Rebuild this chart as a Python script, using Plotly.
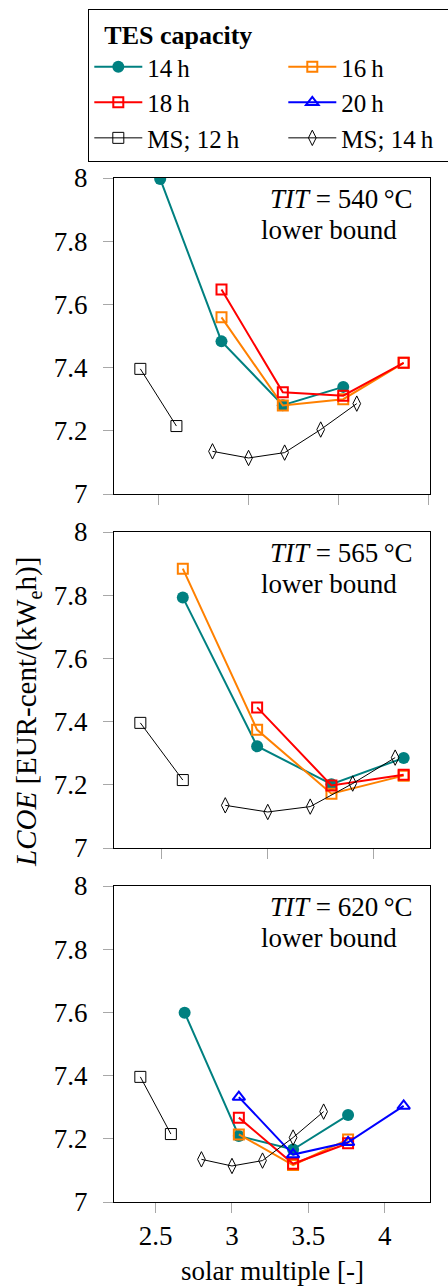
import plotly.graph_objects as go

# ---------------- data ----------------
# TIT = 540 °C
sm14_540 = [2.51, 2.85, 3.19, 3.525]
lcoe14_540 = [7.997, 7.483, 7.281, 7.339]
sm16_540 = [2.85, 3.19, 3.525, 3.86]
lcoe16_540 = [7.559, 7.280, 7.300, 7.415]
sm18_540 = [2.85, 3.19, 3.525, 3.86]
lcoe18_540 = [7.647, 7.322, 7.311, 7.415]

# TIT = 565 °C
sm14_565 = [2.60, 2.95, 3.30, 3.64]
lcoe14_565 = [7.793, 7.322, 7.202, 7.285]
sm16_565 = [2.60, 2.95, 3.30, 3.64]
lcoe16_565 = [7.884, 7.374, 7.172, 7.229]
sm18_565 = [2.95, 3.30, 3.64]
lcoe18_565 = [7.445, 7.198, 7.232]

# TIT = 620 °C
sm14_620 = [2.69, 3.045, 3.40, 3.76]
lcoe14_620 = [7.599, 7.209, 7.166, 7.275]
sm16_620 = [3.045, 3.40, 3.76]
lcoe16_620 = [7.214, 7.117, 7.198]
sm18_620 = [3.045, 3.40, 3.76]
lcoe18_620 = [7.267, 7.121, 7.186]
sm20_620 = [3.045, 3.40, 3.76, 4.124]
lcoe20_620 = [7.332, 7.150, 7.189, 7.304]

# molten-salt references (same in every panel)
sm_ms12 = [2.4, 2.6]
lcoe_ms12 = [7.396, 7.215]
sm_ms14 = [2.8, 3.0, 3.2, 3.4, 3.6]
lcoe_ms14 = [7.135, 7.114, 7.131, 7.204, 7.286]

panel_titles = ["540", "565", "620"]
x_ticks = [2.5, 3, 3.5, 4]
x_ticklabels = ["2.5", "3", "3.5", "4"]
y_ticks = [7, 7.2, 7.4, 7.6, 7.8, 8]
y_ticklabels = ["7", "7.2", "7.4", "7.6", "7.8", "8"]

# ---------------- styling ----------------
W, H = 448, 1286
ML, MR, MT, MB = 114, 18, 178, 84
PW, PH = W - ML - MR, H - MT - MB
FONT = "'Liberation Serif', Tinos, 'Times New Roman', 'DejaVu Serif', serif"

TEAL = "#008080"
ORANGE = "#ff8000"
RED = "#ff0000"
BLUE = "#0000ff"

styles = {
    "14h": dict(name="14\u2009h", color=TEAL, symbol="circle", size=12, lw=2, mlw=0),
    "16h": dict(name="16\u2009h", color=ORANGE, symbol="square-open", size=10, lw=2, mlw=2),
    "18h": dict(name="18\u2009h", color=RED, symbol="square-open", size=10, lw=2, mlw=2),
    "20h": dict(name="20\u2009h", color=BLUE, symbol="triangle-up-open", size=11, lw=2, mlw=2),
    "ms12": dict(name="MS; 12\u2009h", color="black", symbol="square-open", size=11, lw=1, mlw=1),
    "ms14": dict(name="MS; 14\u2009h", color="black", symbol="diamond-tall-open", size=11, lw=1, mlw=1),
}

panels = [
    {"14h": (sm14_540, lcoe14_540), "16h": (sm16_540, lcoe16_540),
     "18h": (sm18_540, lcoe18_540)},
    {"14h": (sm14_565, lcoe14_565), "16h": (sm16_565, lcoe16_565),
     "18h": (sm18_565, lcoe18_565)},
    {"14h": (sm14_620, lcoe14_620), "16h": (sm16_620, lcoe16_620),
     "18h": (sm18_620, lcoe18_620), "20h": (sm20_620, lcoe20_620)},
]

# panel pixel extents (top, bottom)
panel_px = [(178, 494), (532, 848), (886, 1202)]

def py2paper(py):
    return (H - MB - py) / PH

def px2paper(px):
    return (px - ML) / PW

fig = go.Figure()
order = ["14h", "16h", "18h", "20h", "ms12", "ms14"]
shown = set()

for i, pdata in enumerate(panels):
    ax = "" if i == 0 else str(i + 1)
    data = dict(pdata)
    data["ms12"] = (sm_ms12, lcoe_ms12)
    data["ms14"] = (sm_ms14, lcoe_ms14)
    allx = []
    for key in order:
        if key not in data:
            continue
        xs, ys = data[key]
        allx += list(xs)
        s = styles[key]
        fig.add_trace(go.Scatter(
            x=xs, y=ys, mode="lines+markers", name=s["name"],
            xaxis="x" + ax, yaxis="y" + ax,
            line=dict(color=s["color"], width=s["lw"]),
            marker=dict(symbol=s["symbol"], size=s["size"], color=s["color"],
                        line=dict(color=s["color"], width=s["mlw"])),
            showlegend=key not in shown, legendrank=order.index(key) + 1,
        ))
        shown.add(key)
    xmin, xmax = min(allx), max(allx)
    span = xmax - xmin
    top, bot = panel_px[i]
    last = i == len(panels) - 1
    fig.update_layout(**{
        "xaxis" + ax: dict(
            domain=[0, 1], anchor="y" + ax,
            range=[xmin - 0.1 * span, xmax + 0.1 * span],
            tickvals=x_ticks, ticktext=x_ticklabels, showticklabels=last,
            ticks="outside", ticklen=10, tickcolor="#a8a8a8", tickwidth=1,
            showline=True, linecolor="black", linewidth=1, mirror=True,
            showgrid=False, zeroline=False,
            tickfont=dict(family=FONT, size=27, color="black"),
            ticklabelstandoff=0,
        ),
        "yaxis" + ax: dict(
            domain=[py2paper(bot), py2paper(top)], anchor="x" + ax,
            range=[7, 8],
            tickvals=y_ticks, ticktext=y_ticklabels,
            ticks="outside", ticklen=10, tickcolor="#a8a8a8", tickwidth=1,
            showline=True, linecolor="black", linewidth=1, mirror=True,
            showgrid=False, zeroline=False,
            tickfont=dict(family=FONT, size=27, color="black"),
            ticklabelstandoff=10,
        ),
    })
    fig.add_annotation(
        xref="x%s domain" % ax, yref="y%s domain" % ax,
        x=px2paper(341), y=1 - 20.5 / 316, xanchor="center", yanchor="middle",
        text="<i>TIT</i> = %s\u2009°C" % panel_titles[i], showarrow=False,
        font=dict(family=FONT, size=27, color="black"),
    )
    fig.add_annotation(
        xref="x%s domain" % ax, yref="y%s domain" % ax,
        x=px2paper(329), y=1 - 51.5 / 316, xanchor="center", yanchor="middle",
        text="lower bound", showarrow=False,
        font=dict(family=FONT, size=27, color="black"),
    )

# axis titles
fig.add_annotation(
    xref="paper", yref="paper", x=0.5, y=py2paper(1271),
    xanchor="center", yanchor="middle", text="solar multiple [-]",
    showarrow=False, font=dict(family=FONT, size=27, color="black"),
)
fig.add_annotation(
    xref="paper", yref="paper", x=px2paper(28), y=py2paper(712),
    xanchor="center", yanchor="middle", textangle=-90,
    text="<i>LCOE</i> [EUR-cent/(kW<sub>e</sub>h)]",
    showarrow=False, font=dict(family=FONT, size=29, color="black"),
)

fig.update_layout(
    width=W, height=H,
    margin=dict(l=ML, r=MR, t=MT, b=MB, autoexpand=False),
    paper_bgcolor="white", plot_bgcolor="white",
    font=dict(family=FONT, color="black"),
    legend=dict(
        orientation="h", x=px2paper(88.3), xanchor="left",
        y=py2paper(9.3), yanchor="top",
        bordercolor="black", borderwidth=1, bgcolor="white",
        font=dict(family=FONT, size=25, color="black"),
        title=dict(text="\u2002<b>TES capacity</b>", side="top",
                   font=dict(family=FONT, size=26, color="black")),
        itemwidth=48, entrywidth=131, traceorder="normal",
    ),
)

fig.write_html("out.html")
